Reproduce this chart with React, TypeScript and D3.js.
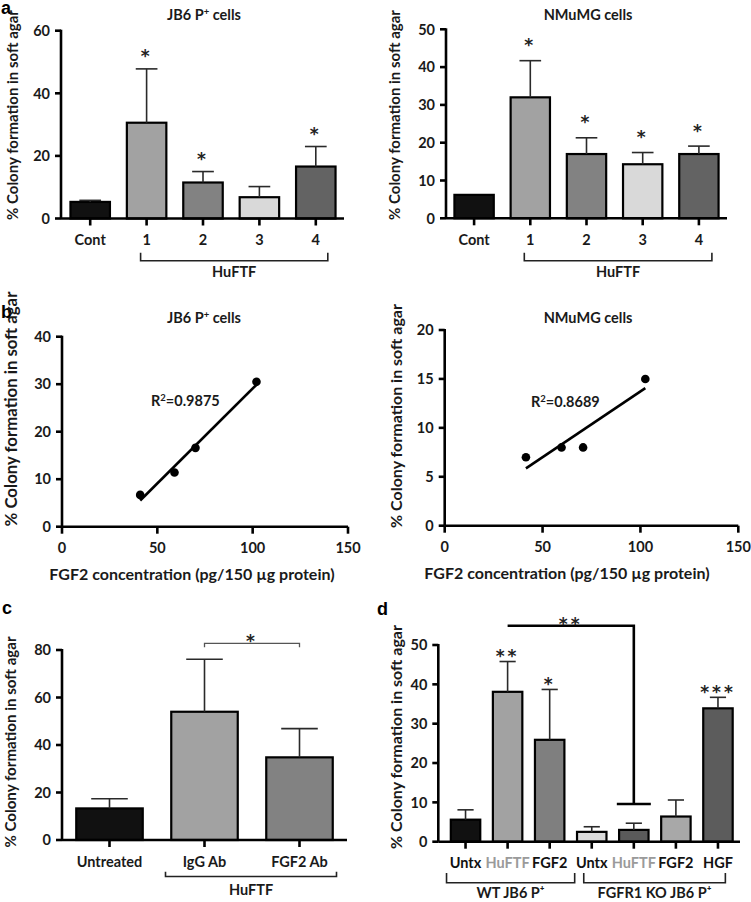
import * as d3 from "d3";

const FONT = "Lato, 'Open Sans', sans-serif";
const STAR_FONT = "'DejaVu Sans', sans-serif";
const W = 751;
const H = 902;

// ---- panel a: colony formation, HuFTF samples
const aCats = ["Cont", "1", "2", "3", "4"];
const aColors = ["#111111", "#a2a2a2", "#828282", "#d9d9d9", "#636363"];
const aJB6Mean = [5.3, 30.6, 11.5, 6.8, 16.6];
const aJB6Err = [0.5, 17.2, 3.5, 3.4, 6.4];
const aJB6Sig = ["", "*", "*", "", "*"];
const aNMuMean = [6.2, 32.0, 17.0, 14.3, 17.0];
const aNMuErr = [0, 9.7, 4.3, 3.1, 2.1];
const aNMuSig = ["", "*", "*", "*", "*"];

// ---- panel b: FGF2 concentration vs colony formation
const bJB6X = [41, 59, 70, 102];
const bJB6Y = [6.7, 11.4, 16.6, 30.5];
const bNMuX = [41.5, 59.7, 70.7, 102.5];
const bNMuY = [7, 8, 8, 15];
const bXTicks = [0, 50, 100, 150];
const bJB6YTicks = [0, 10, 20, 30, 40];
const bNMuYTicks = [0, 5, 10, 15, 20];
const bR2 = ["0.9875", "0.8689"];

// ---- panel c: antibody block
const cCats = ["Untreated", "IgG Ab", "FGF2 Ab"];
const cMean = [13.3, 54.0, 34.8];
const cErr = [4.1, 22.1, 12.1];
const cColors = ["#111111", "#a2a2a2", "#828282"];
const cSig = ["", "", ""];

// ---- panel d: FGFR1 knockout
const dCats = ["Untx", "HuFTF", "FGF2", "Untx", "HuFTF", "FGF2", "HGF"];
const dMean = [5.6, 38.1, 25.9, 2.5, 3.0, 6.4, 33.9];
const dErr = [2.5, 7.7, 12.8, 1.3, 1.7, 4.2, 2.8];
const dSig = ["", "**", "*", "", "", "", "***"];
const dColors = ["#111111", "#a2a2a2", "#7f7f7f", "#dadada", "#5a5a5a", "#a8a8a8", "#5c5c5c"];
const dLabelColors = ["#111", "#9a9a9a", "#111", "#111", "#9a9a9a", "#111", "#111"];

type Frame = { x0: number; xEnd: number; b0: number; b1: number; yTop: number; yBot: number };
type Bracket = { from: number; to: number; dl: number; dr: number; y1: number; y2: number; label: string; ly: number };

function YLabel({ x, y, size }: { x: number; y: number; size: number }) {
  return (
    <text
      transform={`translate(${x},${y}) rotate(-90)`}
      textAnchor="middle"
      dominantBaseline="central"
      fontFamily={FONT}
      fontWeight={700}
      fontSize={size}
      fill="#1a1a1a"
    >
      % Colony formation in soft agar
    </text>
  );
}

function Title({ x, y, main, sup }: { x: number; y: number; main: string; sup?: string }) {
  return (
    <text x={x} y={y} textAnchor="middle" fontFamily={FONT} fontWeight={700} fontSize={14.5} fill="#1a1a1a">
      {main}
      {sup ? (
        <tspan fontSize={9.5} dy={-5}>
          {sup}
        </tspan>
      ) : null}
      {sup ? <tspan dy={5}> cells</tspan> : null}
    </text>
  );
}

function Letter({ x, y, t }: { x: number; y: number; t: string }) {
  return (
    <text x={x} y={y} fontFamily="'Liberation Sans', Arial, sans-serif" fontWeight={700} fontSize={18} fill="#000">
      {t}
    </text>
  );
}

function Stars({ x, cy, s }: { x: number; cy: number; s: string }) {
  return (
    <text
      x={x}
      y={cy + 10.5}
      textAnchor="middle"
      fontFamily={STAR_FONT}
      fontWeight={700}
      fontSize={17}
      letterSpacing={3}
      fill="#222"
    >
      {s}
    </text>
  );
}

function BarPanel(props: {
  cats: string[];
  means: number[];
  errs: number[];
  colors: string[];
  sig: string[];
  yMax: number;
  yTicks: number[];
  f: Frame;
  starGap: number;
  labelColors?: string[];
  brackets: Bracket[];
}) {
  const { cats, means, errs, colors, sig, yMax, yTicks, f, starGap, labelColors, brackets } = props;
  const x = d3
    .scaleBand<number>()
    .domain(d3.range(cats.length))
    .range([f.b0, f.b1])
    .paddingInner(0.3)
    .paddingOuter(0.15);
  const y = d3.scaleLinear().domain([0, yMax]).range([f.yBot, f.yTop]);
  const bw = x.bandwidth();
  const cap = bw * 0.55;
  const cx = (i: number) => (x(i) as number) + bw / 2;

  return (
    <g>
      {means.map((m, i) => (
        <rect
          key={"b" + i}
          x={x(i)}
          y={y(m)}
          width={bw}
          height={y(0) - y(m)}
          fill={colors[i]}
          stroke="#000"
          strokeWidth={2.2}
        />
      ))}
      {means.map((m, i) =>
        errs[i] > 0 ? (
          <g key={"e" + i} stroke="#2a2a2a" strokeWidth={1.6}>
            <line x1={cx(i)} x2={cx(i)} y1={y(m)} y2={y(m + errs[i])} />
            <line x1={cx(i) - cap / 2} x2={cx(i) + cap / 2} y1={y(m + errs[i])} y2={y(m + errs[i])} />
          </g>
        ) : null
      )}
      {sig.map((s, i) =>
        s ? <Stars key={"s" + i} x={cx(i)} cy={y(means[i] + errs[i]) - starGap} s={s} /> : null
      )}
      {/* axes */}
      <g stroke="#000" strokeWidth={2.6} fill="none">
        <line x1={f.x0} x2={f.x0} y1={y(yMax) - 1} y2={y(0)} />
        <line x1={f.x0} x2={f.xEnd} y1={y(0)} y2={y(0)} />
        {yTicks.map((t) => (
          <line key={"yt" + t} x1={f.x0 - 6} x2={f.x0} y1={y(t)} y2={y(t)} />
        ))}
        {cats.map((_, i) => (
          <line key={"xt" + i} x1={cx(i)} x2={cx(i)} y1={y(0)} y2={y(0) + 7} />
        ))}
      </g>
      {yTicks.map((t) => (
        <text
          key={"yl" + t}
          x={f.x0 - 11}
          y={y(t)}
          dy="0.36em"
          textAnchor="end"
          fontFamily={FONT}
          fontWeight={700}
          fontSize={14.5}
          fill="#1a1a1a"
        >
          {t}
        </text>
      ))}
      {cats.map((c, i) => (
        <text
          key={"xl" + i}
          x={cx(i)}
          y={f.yBot + 26.5}
          textAnchor="middle"
          fontFamily={FONT}
          fontWeight={700}
          fontSize={14.5}
          fill={labelColors ? labelColors[i] : "#1a1a1a"}
        >
          {c}
        </text>
      ))}
      {brackets.map((b, k) => {
        const x1 = cx(b.from) + b.dl;
        const x2 = cx(b.to) + b.dr;
        return (
          <g key={"br" + k}>
            <path
              d={`M${x1},${b.y1} V${b.y2} H${x2} V${b.y1}`}
              fill="none"
              stroke="#222"
              strokeWidth={1.6}
            />
            <text
              x={(x1 + x2) / 2}
              y={b.ly}
              textAnchor="middle"
              fontFamily={FONT}
              fontWeight={700}
              fontSize={14.5}
              fill="#1a1a1a"
            >
              {b.label}
            </text>
          </g>
        );
      })}
    </g>
  );
}

function ScatterPanel(props: {
  xs: number[];
  ys: number[];
  yMax: number;
  yTicks: number[];
  f: { x0: number; x1: number; yTop: number; yBot: number };
  r2: string;
  r2Pos: [number, number];
  titleX: number;
}) {
  const { xs, ys, yMax, yTicks, f, r2, r2Pos, titleX } = props;
  const x = d3.scaleLinear().domain([0, 150]).range([f.x0, f.x1]);
  const y = d3.scaleLinear().domain([0, yMax]).range([f.yBot, f.yTop]);
  // least-squares fit over the measured points
  const mx = d3.mean(xs) as number;
  const my = d3.mean(ys) as number;
  const sxy = d3.sum(xs, (v, i) => (v - mx) * (ys[i] - my));
  const sxx = d3.sum(xs, (v) => (v - mx) * (v - mx));
  const slope = sxy / sxx;
  const icpt = my - slope * mx;
  const [xa, xb] = d3.extent(xs) as [number, number];
  const line = d3
    .line<number>()
    .x((v) => x(v))
    .y((v) => y(icpt + slope * v));

  return (
    <g>
      <path d={line([xa, xb]) as string} stroke="#000" strokeWidth={2.6} fill="none" />
      {xs.map((v, i) => (
        <circle key={i} cx={x(v)} cy={y(ys[i])} r={4.3} fill="#000" />
      ))}
      <text x={r2Pos[0]} y={r2Pos[1]} fontFamily={FONT} fontWeight={700} fontSize={14.5} fill="#1a1a1a">
        R
        <tspan fontSize={9.5} dy={-5}>
          2
        </tspan>
        <tspan dy={5}>={r2}</tspan>
      </text>
      <g stroke="#000" strokeWidth={2.6} fill="none">
        <line x1={f.x0} x2={f.x0} y1={y(yMax) - 1} y2={y(0)} />
        <line x1={f.x0} x2={f.x1} y1={y(0)} y2={y(0)} />
        {yTicks.map((t) => (
          <line key={"yt" + t} x1={f.x0 - 6} x2={f.x0} y1={y(t)} y2={y(t)} />
        ))}
        {bXTicks.map((t) => (
          <line key={"xt" + t} x1={x(t)} x2={x(t)} y1={y(0)} y2={y(0) + 7} />
        ))}
      </g>
      {yTicks.map((t) => (
        <text
          key={"yl" + t}
          x={f.x0 - 11}
          y={y(t)}
          dy="0.36em"
          textAnchor="end"
          fontFamily={FONT}
          fontWeight={700}
          fontSize={14.5}
          fill="#1a1a1a"
        >
          {t}
        </text>
      ))}
      {bXTicks.map((t) => (
        <text
          key={"xl" + t}
          x={x(t)}
          y={f.yBot + 26.5}
          textAnchor="middle"
          fontFamily={FONT}
          fontWeight={700}
          fontSize={14.5}
          fill="#1a1a1a"
        >
          {t}
        </text>
      ))}
      <text
        x={titleX}
        y={f.yBot + 53.5}
        textAnchor="middle"
        fontFamily={FONT}
        fontWeight={700}
        fontSize={16}
        fill="#1a1a1a"
      >
        FGF2 concentration (pg/150 µg protein)
      </text>
    </g>
  );
}

export default function App() {
  const fAL: Frame = { x0: 61, xEnd: 344, b0: 62, b1: 344, yTop: 30.7, yBot: 218.5 };
  const fAR: Frame = { x0: 446, xEnd: 727, b0: 446, b1: 727, yTop: 29.3, yBot: 218.3 };
  const fC: Frame = { x0: 62, xEnd: 347, b0: 62, b1: 347, yTop: 650, yBot: 840 };
  const fD: Frame = { x0: 438.3, xEnd: 740, b0: 444.5, b1: 739, yTop: 645, yBot: 841.7 };

  // d: comparison bracket geometry from the scales
  const dx = d3
    .scaleBand<number>()
    .domain(d3.range(dCats.length))
    .range([fD.b0, fD.b1])
    .paddingInner(0.3)
    .paddingOuter(0.15);
  const dy = d3.scaleLinear().domain([0, 50]).range([fD.yBot, fD.yTop]);
  const dc = (i: number) => (dx(i) as number) + dx.bandwidth() / 2;
  const cx = d3
    .scaleBand<number>()
    .domain(d3.range(cCats.length))
    .range([fC.b0, fC.b1])
    .paddingInner(0.3)
    .paddingOuter(0.15);
  const cc = (i: number) => (cx(i) as number) + cx.bandwidth() / 2;
  const cy = d3.scaleLinear().domain([0, 80]).range([fC.yBot, fC.yTop]);

  return (
    <svg
      width={W}
      height={H}
      viewBox={`0 0 ${W} ${H}`}
      style={{ position: "absolute", left: 0, top: 0, background: "#fff" }}
    >
      <rect width={W} height={H} fill="#fff" />

      {/* a */}
      <Letter x={1} y={14} t="a" />
      <Title x={204} y={20} main="JB6 P" sup="+" />
      <YLabel x={12} y={115} size={15} />
      <BarPanel
        cats={aCats}
        means={aJB6Mean}
        errs={aJB6Err}
        colors={aColors}
        sig={aJB6Sig}
        yMax={60}
        yTicks={[0, 20, 40, 60]}
        f={fAL}
        starGap={17}
        brackets={[{ from: 1, to: 4, dl: -6, dr: 12, y1: 252.7, y2: 260.7, label: "HuFTF", ly: 277 }]}
      />
      <Title x={588} y={20} main="NMuMG cells" />
      <YLabel x={394} y={115} size={15} />
      <BarPanel
        cats={aCats}
        means={aNMuMean}
        errs={aNMuErr}
        colors={aColors}
        sig={aNMuSig}
        yMax={50}
        yTicks={[0, 10, 20, 30, 40, 50]}
        f={fAR}
        starGap={20}
        brackets={[{ from: 1, to: 4, dl: -6, dr: 13, y1: 252.7, y2: 260.7, label: "HuFTF", ly: 277 }]}
      />

      {/* b */}
      <Letter x={1} y={318} t="b" />
      <Title x={204} y={323} main="JB6 P" sup="+" />
      <YLabel x={10} y={409} size={16.8} />
      <ScatterPanel
        xs={bJB6X}
        ys={bJB6Y}
        yMax={40}
        yTicks={bJB6YTicks}
        f={{ x0: 62, x1: 348, yTop: 336.7, yBot: 526.7 }}
        r2={bR2[0]}
        r2Pos={[151, 406]}
        titleX={192}
      />
      <Title x={588} y={323} main="NMuMG cells" />
      <YLabel x={395} y={416} size={16} />
      <ScatterPanel
        xs={bNMuX}
        ys={bNMuY}
        yMax={20}
        yTicks={bNMuYTicks}
        f={{ x0: 444.7, x1: 738.3, yTop: 330, yBot: 525.7 }}
        r2={bR2[1]}
        r2Pos={[531, 407]}
        titleX={567}
      />

      {/* c */}
      <Letter x={2} y={614} t="c" />
      <YLabel x={10} y={742} size={15.1} />
      <BarPanel
        cats={cCats}
        means={cMean}
        errs={cErr}
        colors={cColors}
        sig={cSig}
        yMax={80}
        yTicks={[0, 20, 40, 60, 80]}
        f={fC}
        starGap={10}
        brackets={[{ from: 1, to: 2, dl: -39, dr: 37, y1: 871.7, y2: 876.5, label: "HuFTF", ly: 895 }]}
      />
      <path
        d={`M${cc(1)},${cy(82.8) + 4} V${cy(82.8)} H${cc(2)} V${cy(82.8) + 4}`}
        fill="none"
        stroke="#555"
        strokeWidth={1.3}
      />
      <Stars x={(cc(1) + cc(2)) / 2} cy={cy(82.8) - 7} s="*" />

      {/* d */}
      <Letter x={377} y={615} t="d" />
      <YLabel x={395} y={737} size={16} />
      <BarPanel
        cats={dCats}
        means={dMean}
        errs={dErr}
        colors={dColors}
        sig={dSig}
        yMax={50}
        yTicks={[0, 10, 20, 30, 40, 50]}
        f={fD}
        starGap={10}
        labelColors={dLabelColors}
        brackets={[
          { from: 0, to: 2, dl: -19, dr: 25, y1: 873, y2: 882.7, label: "WT JB6 P\u207a", ly: 898 },
          { from: 3, to: 6, dl: -8, dr: 7.4, y1: 873, y2: 882.7, label: "FGFR1 KO JB6 P\u207a", ly: 898 },
        ]}
      />
      <path
        d={`M${dc(1)},${dy(54.9)} H${dc(4)} V${dy(9.6)} M${dc(4) - 17},${dy(9.6)} H${dc(4) + 17}`}
        fill="none"
        stroke="#000"
        strokeWidth={2.6}
      />
      <Stars x={(dc(1) + dc(4)) / 2} cy={dy(54.9) - 6} s="**" />
    </svg>
  );
}
